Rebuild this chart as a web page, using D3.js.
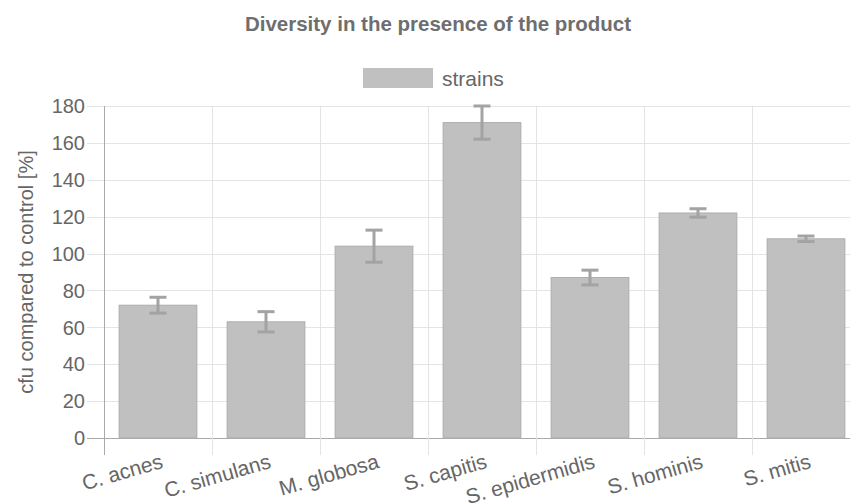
<!DOCTYPE html>
<html>
<head>
<meta charset="utf-8">
<script src="https://cdn.jsdelivr.net/npm/d3@7"></script>
<style>
body { margin: 0; background: #fff; }
text { font-family: "Liberation Sans", Arial, sans-serif; fill: #666; }
</style>
</head>
<body>
<div id="chart"></div>
<script>
var categories = ['C. acnes', 'C. simulans', 'M. globosa', 'S. capitis', 'S. epidermidis', 'S. hominis', 'S. mitis'];
var values = [72, 63, 104, 171, 87, 122, 108];
var errors = [4.3, 5.5, 8.7, 9, 4, 2.3, 1.5];
var yTicks = [0, 20, 40, 60, 80, 100, 120, 140, 160, 180];

var width = 850, height = 504;
var plot = { left: 104, right: 860, top: 106, bottom: 438 };

var svg = d3.select('#chart').append('svg')
    .attr('width', width)
    .attr('height', height);

var x = d3.scaleBand().domain(categories).range([plot.left, plot.right]);
var y = d3.scaleLinear().domain([0, 180]).range([plot.bottom, plot.top]);

// grid
svg.append('g').selectAll('line')
    .data(yTicks).enter().append('line')
    .attr('x1', plot.left - 17).attr('x2', width)
    .attr('y1', function (d) { return Math.round(y(d)) + 0.5; })
    .attr('y2', function (d) { return Math.round(y(d)) + 0.5; })
    .attr('stroke', function (d) { return d === 0 ? '#aaa' : '#e4e4e4'; })
    .attr('stroke-width', 1);

var vlines = categories.map(function (c) { return x(c); });
svg.append('g').selectAll('line')
    .data(vlines).enter().append('line')
    .attr('x1', function (d) { return Math.round(d) + 0.5; })
    .attr('x2', function (d) { return Math.round(d) + 0.5; })
    .attr('y1', plot.top).attr('y2', plot.bottom + 17)
    .attr('stroke', function (d, i) { return i === 0 ? '#aaa' : '#e4e4e4'; })
    .attr('stroke-width', 1);

// y tick labels
svg.append('g').selectAll('text')
    .data(yTicks).enter().append('text')
    .attr('x', plot.left - 19)
    .attr('y', function (d) { return y(d); })
    .attr('dy', '0.36em')
    .attr('text-anchor', 'end')
    .style('font-size', '20px')
    .text(function (d) { return d; });

// bars
var bw = x.bandwidth() * 0.72;
svg.append('g').selectAll('rect')
    .data(values).enter().append('rect')
    .attr('x', function (d, i) { return x(categories[i]) + (x.bandwidth() - bw) / 2; })
    .attr('y', function (d) { return y(d); })
    .attr('width', bw)
    .attr('height', function (d) { return y(0) - y(d); })
    .attr('fill', '#c0c0c0')
    .attr('stroke', '#adadad')
    .attr('stroke-width', 1);

// error bars
var eb = svg.append('g').attr('stroke', '#a3a3a3').attr('stroke-width', 3);
values.forEach(function (v, i) {
    var cx = x(categories[i]) + x.bandwidth() / 2;
    var hi = y(v + errors[i]), lo = y(v - errors[i]);
    eb.append('line').attr('x1', cx).attr('x2', cx).attr('y1', hi).attr('y2', lo);
    eb.append('line').attr('x1', cx - 8.5).attr('x2', cx + 8.5).attr('y1', hi).attr('y2', hi);
    eb.append('line').attr('x1', cx - 8.5).attr('x2', cx + 8.5).attr('y1', lo).attr('y2', lo);
});

// x labels
svg.append('g').selectAll('text')
    .data(categories).enter().append('text')
    .attr('transform', function (d) {
        return 'translate(' + (x(d) + x.bandwidth() / 2 + 2) + ',' + (plot.bottom + 15) + ') rotate(-16)';
    })
    .attr('text-anchor', 'end')
    .attr('dy', '0.72em')
    .style('font-size', '21px')
    .text(function (d) { return d; });

// y axis title
svg.append('text')
    .attr('transform', 'translate(33,' + ((plot.top + plot.bottom) / 2) + ') rotate(-90)')
    .attr('text-anchor', 'middle')
    .style('font-size', '20px')
    .text('cfu compared to control [%]');

// title
svg.append('text')
    .attr('x', 438).attr('y', 31)
    .attr('text-anchor', 'middle')
    .style('font-size', '20.5px')
    .style('font-weight', 'bold')
    .style('fill', '#6e6e6e')
    .text('Diversity in the presence of the product');

// legend
svg.append('rect')
    .attr('x', 363).attr('y', 68).attr('width', 70).attr('height', 20)
    .attr('fill', '#c0c0c0');
svg.append('text')
    .attr('x', 442).attr('y', 86)
    .style('font-size', '21px')
    .text('strains');
</script>
</body>
</html>
